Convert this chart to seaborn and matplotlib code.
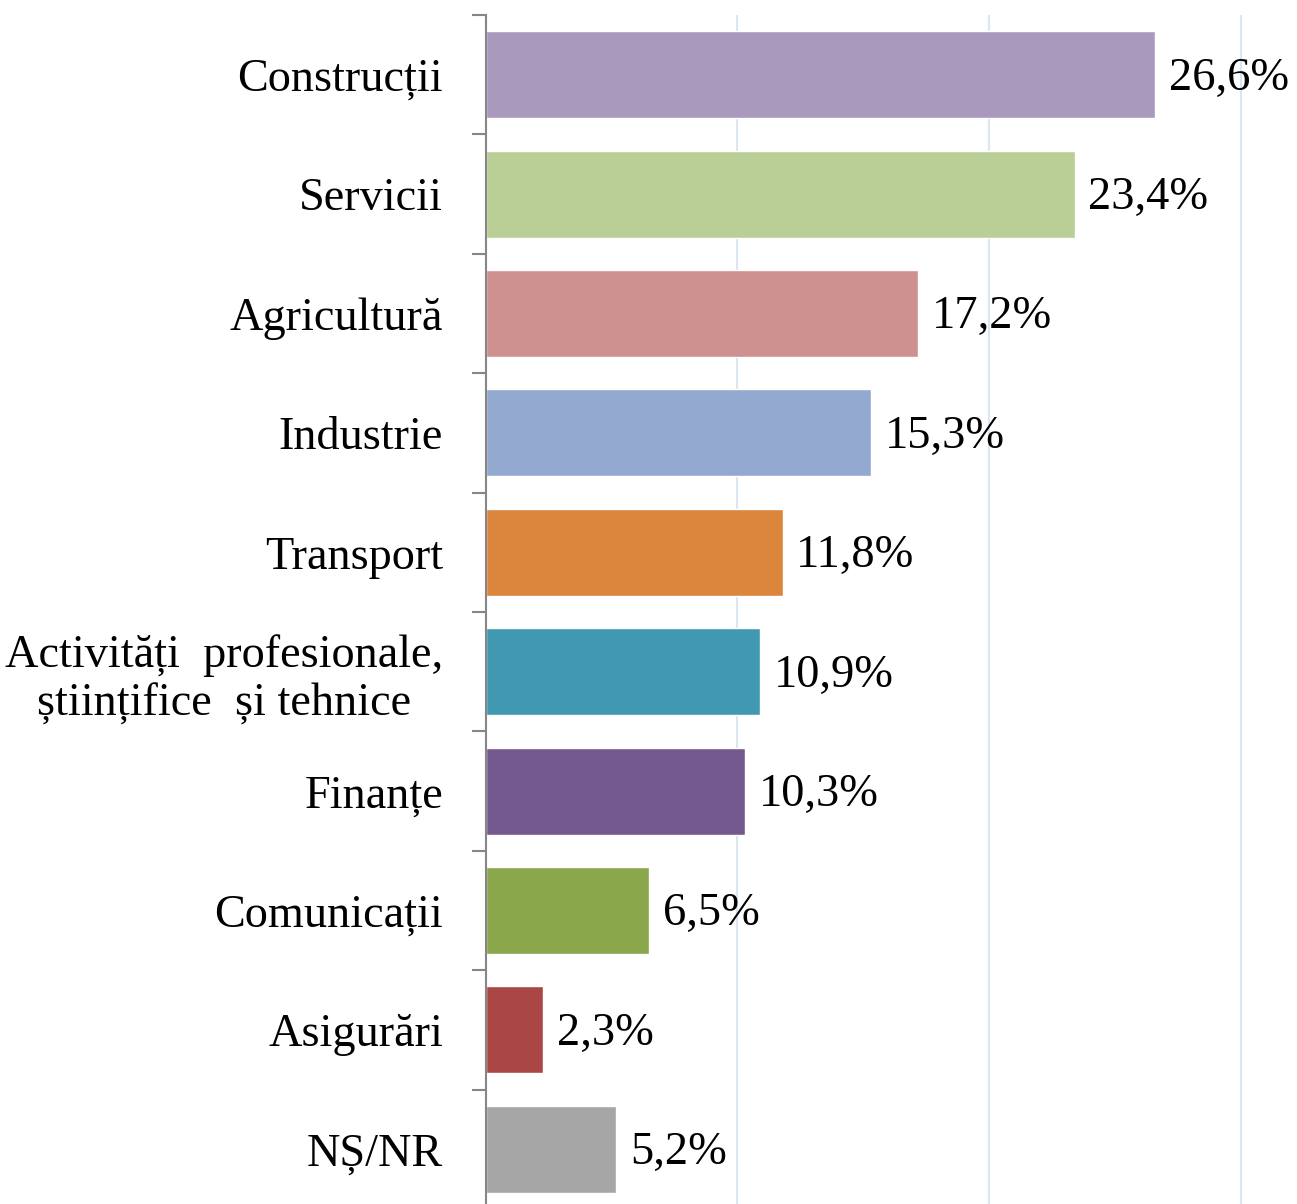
import matplotlib
matplotlib.use("Agg")
import matplotlib.pyplot as plt
import seaborn as sns
import pandas as pd

sns.set_style("white")
plt.rcParams['font.family'] = ['Liberation Serif', 'DejaVu Serif']
plt.rcParams['text.color'] = 'black'
plt.rcParams['ytick.labelcolor'] = 'black'

categories = ["Construcții", "Servicii", "Agricultură", "Industrie", "Transport",
              "Activități  profesionale,\nștiințifice  și tehnice", "Finanțe",
              "Comunicații", "Asigurări", "NȘ/NR"]
values = [26.6, 23.4, 17.2, 15.3, 11.8, 10.9, 10.3, 6.5, 2.3, 5.2]
colors = ["#A99ABD", "#B9CF96", "#CE9190", "#93A9CF", "#DC853D",
          "#4199B1", "#74598F", "#8AA74B", "#AA4744", "#A6A6A6"]

df = pd.DataFrame({"cat": categories, "val": values})

fig = plt.figure(figsize=(12.97, 12.04), dpi=100)
ax = fig.add_axes([485.5 / 1297, -5 / 1204, 1 - 485.5 / 1297 - 6 / 1297, 1194 / 1204])

sns.barplot(data=df, x="val", y="cat", hue="cat", palette=colors, orient="h",
            width=0.73, legend=False, ax=ax, saturation=1)

ax.set_xlim(0, 32)
ax.set_ylim(len(categories) - 0.5, -0.5)
ax.set_xticks([10, 20, 30])
ax.xaxis.grid(True, color="#DCE6F0", linewidth=1.5)
ax.set_axisbelow(True)
ax.tick_params(axis="x", bottom=False, labelbottom=False)

# ticks at category boundaries
ax.set_yticks([i + 0.5 for i in range(-1, len(categories))], minor=True)
ax.tick_params(axis="y", which="minor", left=True, length=10, width=1.5, color="#868686")
ax.tick_params(axis="y", which="major", left=False, pad=27, labelsize=33.3,
               labelcolor="black")
for lab in ax.get_yticklabels():
    lab.set_multialignment("center")

for side in ["top", "right", "bottom"]:
    ax.spines[side].set_visible(False)
ax.spines["left"].set_color("#868686")
ax.spines["left"].set_linewidth(1.5)

ax.set_xlabel("")
ax.set_ylabel("")

for i, v in enumerate(values):
    ax.text(v + 0.55, i + 0.03, f"{v:.1f}%".replace(".", ","), va="center", ha="left",
            fontsize=33.5, color="black")

fig.savefig("out.png", dpi=100)
